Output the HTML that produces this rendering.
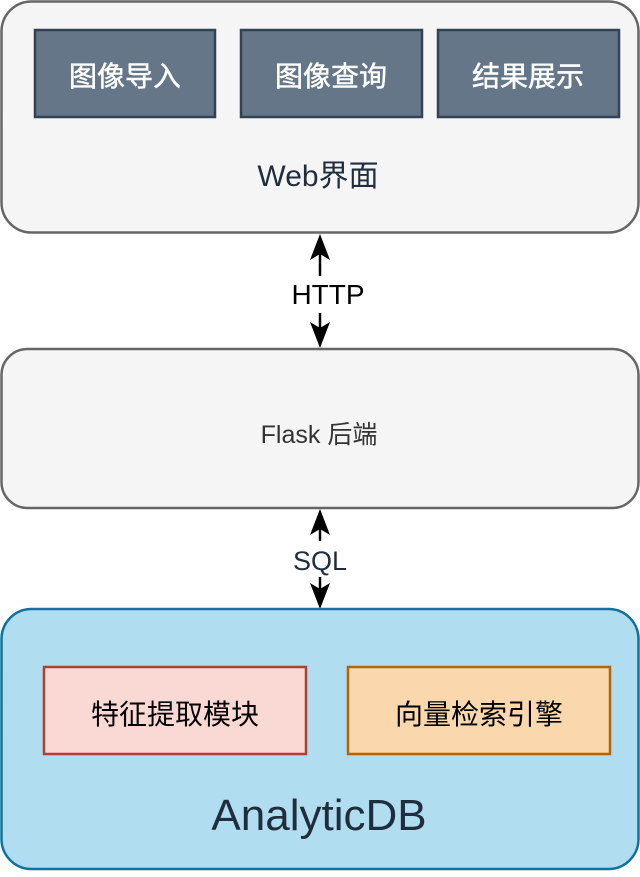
<!DOCTYPE html>
<html><head><meta charset="utf-8"><style>
html,body{margin:0;padding:0;background:#fff;}
svg text{font-family:"Liberation Sans","Noto Sans CJK SC",sans-serif;}
</style></head><body>
<svg width="640" height="872" viewBox="0 0 640 872" xmlns="http://www.w3.org/2000/svg">
<rect x="1.5" y="1.5" width="637" height="231" rx="30" fill="#f5f5f5" stroke="#666" stroke-width="2.5"/>
<rect x="35" y="30" width="180" height="87" fill="#647687" stroke="#314354" stroke-width="2.5"/>
<rect x="241" y="30" width="181" height="87" fill="#647687" stroke="#314354" stroke-width="2.5"/>
<rect x="438" y="30" width="181" height="87" fill="#647687" stroke="#314354" stroke-width="2.5"/>
<text x="125" y="86" font-size="28" fill="#fff" text-anchor="middle" stroke="#fff" stroke-width="0.5">图像导入</text>
<text x="331" y="86" font-size="28" fill="#fff" text-anchor="middle" stroke="#fff" stroke-width="0.5">图像查询</text>
<text x="528" y="86" font-size="28" fill="#fff" text-anchor="middle" stroke="#fff" stroke-width="0.5">结果展示</text>
<text x="318" y="186" font-size="30" fill="#1f2d3d" text-anchor="middle">Web界面</text>

<line x1="320" y1="276" x2="320" y2="250" stroke="#000" stroke-width="2.5"/>
<polygon points="320,234 330,260 320,254 310,260" fill="#000"/>
<line x1="320" y1="313" x2="320" y2="334" stroke="#000" stroke-width="2.5"/>
<polygon points="320,348 330,322 320,328 310,322" fill="#000"/>
<text x="328" y="304" font-size="28" fill="#000" text-anchor="middle">HTTP</text>

<rect x="1.5" y="349" width="637" height="159" rx="26" fill="#f5f5f5" stroke="#666" stroke-width="2.5"/>
<text x="319" y="443" font-size="25" fill="#333" text-anchor="middle">Flask 后端</text>

<line x1="320" y1="541" x2="320" y2="522" stroke="#000" stroke-width="2.5"/>
<polygon points="320,509 330,535 320,529 310,535" fill="#000"/>
<line x1="320" y1="577" x2="320" y2="596" stroke="#000" stroke-width="2.5"/>
<polygon points="320,609 330,583 320,589 310,583" fill="#000"/>
<text x="320" y="570" font-size="27" fill="#1f2d3d" text-anchor="middle">SQL</text>

<rect x="1.5" y="609" width="637" height="260" rx="30" fill="#b1ddf0" stroke="#10739e" stroke-width="2.5"/>
<rect x="44" y="667" width="262" height="87" fill="#fad9d5" stroke="#ae4132" stroke-width="2.5"/>
<rect x="348" y="667" width="262" height="87" fill="#fad7ac" stroke="#b46504" stroke-width="2.5"/>
<text x="175" y="724" font-size="28" fill="#000" text-anchor="middle">特征提取模块</text>
<text x="479" y="724" font-size="28" fill="#000" text-anchor="middle">向量检索引擎</text>
<text x="319" y="830" font-size="44" fill="#1f2d3d" text-anchor="middle">AnalyticDB</text>
</svg>
</body></html>
